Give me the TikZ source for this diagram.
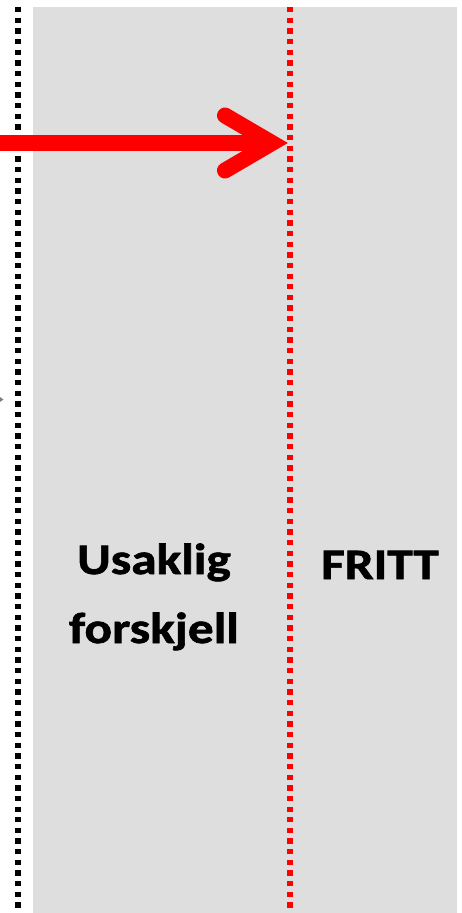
\documentclass[tikz,border=0pt]{standalone}
\usepackage{fontspec}
\newfontfamily\zonefont[FakeStretch=1.18, FakeBold=1.5]{Carlito}
\definecolor{zonegrey}{RGB}{222,222,222}
\definecolor{arrowred}{RGB}{255,0,0}

\begin{document}
\begin{tikzpicture}[x=1pt, y=-1pt]

        \useasboundingbox (0,0) rectangle (462,913);

        % 1. Define the coordinates
        \coordinate (BoxTL) at (33,7);      % grey field, top left
        \coordinate (BoxBR) at (457,913);   % grey field, bottom right
        \coordinate (LimitTop) at (18,7);   % black dotted line
        \coordinate (LimitBot) at (18,913);
        \coordinate (BorderTop) at (290,7); % red dotted line
        \coordinate (BorderBot) at (290,913);

        % Arrow coordinates
        \coordinate (ArrowStart) at (0,143);
        \coordinate (ArrowTip) at (272,143);
        \coordinate (BarbUp) at (225,115.5);
        \coordinate (BarbDown) at (225,170.5);

        \tikzset{
          dotline/.style={line width=5.3pt, dash pattern=on 5.33pt off 5.33pt},
          zonetext/.style={font=\zonefont\bfseries\fontsize{43.5}{69}\selectfont, align=center, inner sep=0pt, anchor=base}
        }

        % 2. Grey field
        \fill[zonegrey] (BoxTL) rectangle (BoxBR);

        % 3. The dotted lines
        \draw[dotline, black] (LimitTop) -- (LimitBot);
        \draw[dotline, arrowred] (BorderTop) -- (BorderBot);

        % small grey tip at the left edge
        \fill[gray] (0,397) -- (3.5,399.5) -- (0,402) -- cycle;

        % 4. Red arrow
        \draw[line width=16pt, arrowred] (ArrowStart) -- (ArrowTip);
        \draw[line width=16pt, arrowred, line cap=round, line join=miter] (BarbUp) -- (ArrowTip) -- (BarbDown);

        % 5. Labels (base = baseline of the last line)
        \node[zonetext] (unfair) at (154,643) {Usaklig\\forskjell};
        \node[zonetext] (free) at (380,579) {FRITT};

\end{tikzpicture}
\end{document}
